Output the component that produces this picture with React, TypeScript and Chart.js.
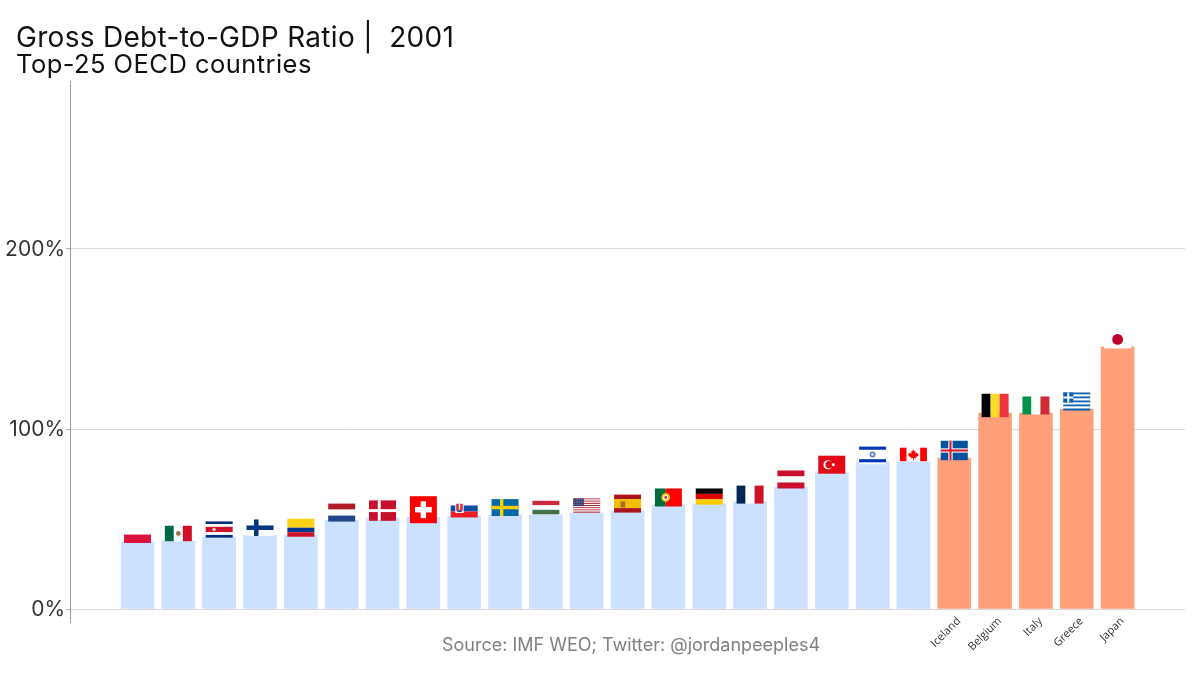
import { useEffect, useRef } from 'react';
import { Chart, registerables } from 'chart.js';

Chart.register(...registerables);

const categories = [
  'Poland', 'Mexico', 'Costa Rica', 'Finland', 'Colombia',
  'Netherlands', 'Denmark', 'Switzerland', 'Slovakia', 'Sweden',
  'Hungary', 'United States', 'Spain', 'Portugal', 'Germany',
  'France', 'Austria', 'Turkey', 'Israel', 'Canada',
  'Iceland', 'Belgium', 'Italy', 'Greece', 'Japan',
];
const debtValues = [
  37.2, 37.8, 40, 41, 41,
  49.4, 50.5, 51, 51.7, 52.2,
  52.2, 53.3, 54.4, 57.8, 58.3,
  59.4, 67.8, 76, 81.7, 81.7,
  83.9, 108.9, 108.9, 111.1, 145.6,
];
const yTicks = [0, 100, 200];
const topFiveStart = 20;

const FONT = 'Inter, "Noto Sans", sans-serif';

type Ctx = CanvasRenderingContext2D;
type Painter = (c: Ctx, x: number, y: number, w: number, h: number) => void;

const hBands = (colors: string[], weights?: number[]): Painter => (c, x, y, w, h) => {
  const ws = weights || colors.map(() => 1);
  const total = ws.reduce((s, v) => s + v, 0);
  let at = y;
  colors.forEach((col, i) => {
    const bh = (h * ws[i]) / total;
    c.fillStyle = col;
    c.fillRect(x, at, w, bh);
    at += bh;
  });
};

const vBands = (colors: string[], weights?: number[]): Painter => (c, x, y, w, h) => {
  const ws = weights || colors.map(() => 1);
  const total = ws.reduce((s, v) => s + v, 0);
  let at = x;
  colors.forEach((col, i) => {
    const bw = (w * ws[i]) / total;
    c.fillStyle = col;
    c.fillRect(at, y, bw, h);
    at += bw;
  });
};

const dot = (c: Ctx, x: number, y: number, r: number, col: string) => {
  c.fillStyle = col;
  c.beginPath();
  c.arc(x, y, r, 0, Math.PI * 2);
  c.fill();
};

// nordic style cross, vx/hy are fractions of the flag size
const cross = (bg: string, fg: string, vx: number, vw: number, hy: number, hh: number): Painter => (c, x, y, w, h) => {
  c.fillStyle = bg;
  c.fillRect(x, y, w, h);
  c.fillStyle = fg;
  c.fillRect(x + w * vx, y, w * vw, h);
  c.fillRect(x, y + h * hy, w, h * hh);
};

const flags: Record<string, { ratio: number; draw: Painter }> = {
  Poland: { ratio: 5 / 8, draw: hBands(['#ffffff', '#dc143c']) },
  Mexico: {
    ratio: 4 / 7,
    draw: (c, x, y, w, h) => {
      vBands(['#006847', '#ffffff', '#ce1126'])(c, x, y, w, h);
      dot(c, x + w / 2, y + h / 2, 2.4, '#9a7a50');
    },
  },
  'Costa Rica': {
    ratio: 3 / 5,
    draw: (c, x, y, w, h) => {
      hBands(['#002b7f', '#ffffff', '#ce1126', '#ffffff', '#002b7f'], [1, 1, 2, 1, 1])(c, x, y, w, h);
      dot(c, x + w * 0.31, y + h / 2, 1.8, '#d8d0d0');
    },
  },
  Finland: { ratio: 11 / 18, draw: cross('#ffffff', '#003580', 5 / 18, 3 / 18, 4 / 11, 3 / 11) },
  Colombia: { ratio: 2 / 3, draw: hBands(['#fcd116', '#003893', '#ce1126'], [2, 1, 1]) },
  Netherlands: { ratio: 2 / 3, draw: hBands(['#ae1c28', '#ffffff', '#21468b']) },
  Denmark: { ratio: 28 / 37, draw: cross('#c8102e', '#ffffff', 12 / 37, 4 / 37, 12 / 28, 4 / 28) },
  Switzerland: {
    ratio: 1,
    draw: (c, x, y, w, h) => {
      c.fillStyle = '#ff0000';
      c.fillRect(x, y, w, h);
      c.fillStyle = '#ffffff';
      c.fillRect(x + w * 0.4, y + h * 0.19, w * 0.2, h * 0.62);
      c.fillRect(x + w * 0.19, y + h * 0.4, w * 0.62, h * 0.2);
    },
  },
  Slovakia: {
    ratio: 2 / 3,
    draw: (c, x, y, w, h) => {
      hBands(['#ffffff', '#0b4ea2', '#ee1c25'])(c, x, y, w, h);
      c.fillStyle = '#ffffff';
      c.fillRect(x + w * 0.17, y + h * 0.2, w * 0.31, h * 0.55);
      c.fillStyle = '#d83a40';
      c.fillRect(x + w * 0.2, y + h * 0.24, w * 0.25, h * 0.38);
      c.fillStyle = '#ffffff';
      c.fillRect(x + w * 0.3, y + h * 0.26, w * 0.05, h * 0.3);
      c.fillStyle = '#0b4ea2';
      c.fillRect(x + w * 0.24, y + h * 0.6, w * 0.17, h * 0.1);
    },
  },
  Sweden: { ratio: 5 / 8, draw: cross('#006aa7', '#fecc00', 5 / 16, 2 / 16, 4 / 10, 2 / 10) },
  Hungary: { ratio: 1 / 2, draw: hBands(['#cd2a3e', '#ffffff', '#436f4d']) },
  'United States': {
    ratio: 10 / 19,
    draw: (c, x, y, w, h) => {
      const stripes = Array.from({ length: 13 }, (_, i) => (i % 2 ? '#ffffff' : '#b22234'));
      hBands(stripes)(c, x, y, w, h);
      c.fillStyle = '#3c3b6e';
      c.fillRect(x, y, w * 0.4, (h * 7) / 13);
      c.fillStyle = '#a8a8c8';
      for (let r = 0; r < 4; r++) {
        for (let k = 0; k < 6; k++) c.fillRect(x + 1 + k * 1.7, y + 0.8 + r * 1.6, 0.7, 0.7);
      }
    },
  },
  Spain: {
    ratio: 2 / 3,
    draw: (c, x, y, w, h) => {
      hBands(['#aa151b', '#f1bf00', '#aa151b'], [1, 2, 1])(c, x, y, w, h);
      c.fillStyle = '#ad6a2f';
      c.fillRect(x + w * 0.24, y + h * 0.38, w * 0.17, h * 0.34);
    },
  },
  Portugal: {
    ratio: 2 / 3,
    draw: (c, x, y, w, h) => {
      vBands(['#046a38', '#ff0000'], [2, 3])(c, x, y, w, h);
      dot(c, x + w * 0.4, y + h / 2, 4.4, '#e8c020');
      dot(c, x + w * 0.4, y + h / 2, 2.6, '#ffffff');
      dot(c, x + w * 0.4, y + h / 2, 1.4, '#c83030');
    },
  },
  Germany: { ratio: 3 / 5, draw: hBands(['#000000', '#dd0000', '#ffce00']) },
  France: { ratio: 2 / 3, draw: vBands(['#002654', '#ffffff', '#ce1126']) },
  Austria: { ratio: 2 / 3, draw: hBands(['#c8102e', '#ffffff', '#c8102e']) },
  Turkey: {
    ratio: 2 / 3,
    draw: (c, x, y, w, h) => {
      c.fillStyle = '#e30a17';
      c.fillRect(x, y, w, h);
      dot(c, x + w * 0.36, y + h / 2, h * 0.25, '#ffffff');
      dot(c, x + w * 0.4, y + h / 2, h * 0.2, '#e30a17');
      dot(c, x + w * 0.56, y + h / 2, h * 0.08, '#ffffff');
    },
  },
  Israel: {
    ratio: 8 / 11,
    draw: (c, x, y, w, h) => {
      c.fillStyle = '#ffffff';
      c.fillRect(x, y, w, h);
      c.fillStyle = '#0038b8';
      c.fillRect(x, y + h * 0.1, w, h * 0.16);
      c.fillRect(x, y + h * 0.74, w, h * 0.16);
      dot(c, x + w / 2, y + h / 2, 3, '#5a80d0');
      dot(c, x + w / 2, y + h / 2, 1.2, '#ffffff');
    },
  },
  Canada: {
    ratio: 1 / 2,
    draw: (c, x, y, w, h) => {
      vBands(['#ff0000', '#ffffff', '#ff0000'], [1, 2, 1])(c, x, y, w, h);
      const cx = x + w / 2;
      const s = h / 14;
      const leaf = [
        [0, -5.5], [1.3, -3], [2.4, -3.6], [1.9, -0.8], [3.4, -2], [3.8, -1], [5.4, -1.3],
        [4.8, 0.6], [5.4, 1], [2.6, 3.2], [3, 4.2], [0.4, 3.8], [0.4, 6], [-0.4, 6],
        [-0.4, 3.8], [-3, 4.2], [-2.6, 3.2], [-5.4, 1], [-4.8, 0.6], [-5.4, -1.3], [-3.8, -1],
        [-3.4, -2], [-1.9, -0.8], [-2.4, -3.6], [-1.3, -3],
      ];
      c.fillStyle = '#ff0000';
      c.beginPath();
      leaf.forEach(([px, py], i) => {
        if (i === 0) c.moveTo(cx + px * s, y + h / 2 + py * s);
        else c.lineTo(cx + px * s, y + h / 2 + py * s);
      });
      c.closePath();
      c.fill();
    },
  },
  Iceland: {
    ratio: 18 / 25,
    draw: (c, x, y, w, h) => {
      cross('#02529c', '#ffffff', 7 / 25, 4 / 25, 7 / 18, 4 / 18)(c, x, y, w, h);
      c.fillStyle = '#dc1e35';
      c.fillRect(x + (w * 8) / 25, y, (w * 2) / 25, h);
      c.fillRect(x, y + (h * 8) / 18, w, (h * 2) / 18);
    },
  },
  Belgium: { ratio: 13 / 15, draw: vBands(['#000000', '#fdda24', '#ef3340']) },
  Italy: { ratio: 2 / 3, draw: vBands(['#009246', '#ffffff', '#ce2b37']) },
  Greece: {
    ratio: 2 / 3,
    draw: (c, x, y, w, h) => {
      const stripes = Array.from({ length: 9 }, (_, i) => (i % 2 ? '#ffffff' : '#0d5eaf'));
      hBands(stripes)(c, x, y, w, h);
      const side = (h * 5) / 9;
      c.fillStyle = '#0d5eaf';
      c.fillRect(x, y, side, side);
      c.fillStyle = '#ffffff';
      c.fillRect(x + side * 0.4, y, side * 0.2, side);
      c.fillRect(x, y + side * 0.4, side, side * 0.2);
    },
  },
  Japan: {
    ratio: 2 / 3,
    draw: (c, x, y, w, h) => {
      c.fillStyle = '#ffffff';
      c.fillRect(x, y, w, h);
      dot(c, x + w / 2, y + h / 2, h * 0.3, '#bc002d');
    },
  },
};

const flagPlugin = {
  id: 'flags',
  afterDatasetsDraw(chart: any) {
    const c: Ctx = chart.ctx;
    const { x: xs, y: ys } = chart.scales;
    const w = 27;
    c.save();
    categories.forEach((name, i) => {
      const f = flags[name];
      const h = w * f.ratio;
      const px = xs.getPixelForValue(i) - w / 2;
      const py = ys.getPixelForValue(debtValues[i]) - 7.5 - h / 2;
      f.draw(c, px, py, w, h);
    });
    c.restore();
  },
};

// headings sit left of the y axis labels' edge, so they are drawn here
const textPlugin = {
  id: 'texts',
  afterDraw(chart: any) {
    const c: any = chart.ctx;
    c.save();
    c.fillStyle = '#111111';
    c.textBaseline = 'alphabetic';
    c.font = '28px ' + FONT;
    c.letterSpacing = '0.3px';
    c.fillText('Gross Debt-to-GDP Ratio |  2001', 16, 47);
    c.font = '25.5px ' + FONT;
    c.letterSpacing = '0.45px';
    c.fillText('Top-25 OECD countries', 16, 73);
    c.letterSpacing = '0px';
    c.font = '18px ' + FONT;
    c.fillStyle = '#808080';
    c.textAlign = 'center';
    c.textBaseline = 'middle';
    c.fillText('Source: IMF WEO; Twitter: @jordanpeeples4', 631, 646);
    c.restore();
  },
};

export default function App() {
  const canvasRef = useRef<HTMLCanvasElement | null>(null);

  useEffect(() => {
    if (!canvasRef.current) return;
    const chart = new Chart(canvasRef.current, {
      type: 'bar',
      data: {
        datasets: [
          {
            data: debtValues.map((v, i) => ({ x: i, y: v })),
            backgroundColor: debtValues.map((_, i) => (i >= topFiveStart ? '#ffa07a' : '#cce0ff')),
            barThickness: 33,
            borderWidth: 0,
          },
        ],
      },
      options: {
        responsive: false,
        animation: false,
        layout: { padding: { left: 0, right: 15, top: 81, bottom: 0 } },
        plugins: {
          legend: { display: false },
          tooltip: { enabled: false },
        },
        scales: {
          x: {
            type: 'linear',
            offset: false,
            min: -1.653,
            max: 25.65,
            grid: { display: false },
            border: { display: false },
            afterBuildTicks: (axis: any) => {
              axis.ticks = categories.slice(topFiveStart).map((_, i) => ({ value: topFiveStart + i }));
            },
            afterFit: (axis: any) => {
              axis.height = 78;
            },
            ticks: {
              autoSkip: false,
              minRotation: 45,
              maxRotation: 45,
              // mirror keeps the labels from being clipped at the axis top, they start above it
              mirror: true,
              padding: -2,
              labelOffset: 14,
              color: '#333333',
              font: { family: '"Open Sans", sans-serif', size: 11 },
              callback: (v: any) => categories[v] ?? '',
            },
          },
          y: {
            min: -7.2,
            max: 293.3,
            afterFit: (axis: any) => {
              axis.width = 70;
            },
            afterBuildTicks: (axis: any) => {
              axis.ticks = yTicks.map((value) => ({ value }));
            },
            grid: { color: '#d9d9d9', tickLength: 4, tickColor: '#b3b3b3' },
            border: { display: true, color: '#999999' },
            ticks: {
              padding: 1,
              labelOffset: 1,
              color: '#333333',
              font: { family: FONT, size: 21 },
              callback: (v: any) => v + '%',
            },
          },
        },
      },
      plugins: [flagPlugin, textPlugin],
    } as any);

    return () => chart.destroy();
  }, []);

  return (
    <div style={{ position: 'absolute', left: 0, top: 0, width: 1200, height: 700, background: '#ffffff' }}>
      <canvas ref={canvasRef} width={1200} height={700} style={{ display: 'block' }} />
    </div>
  );
}
